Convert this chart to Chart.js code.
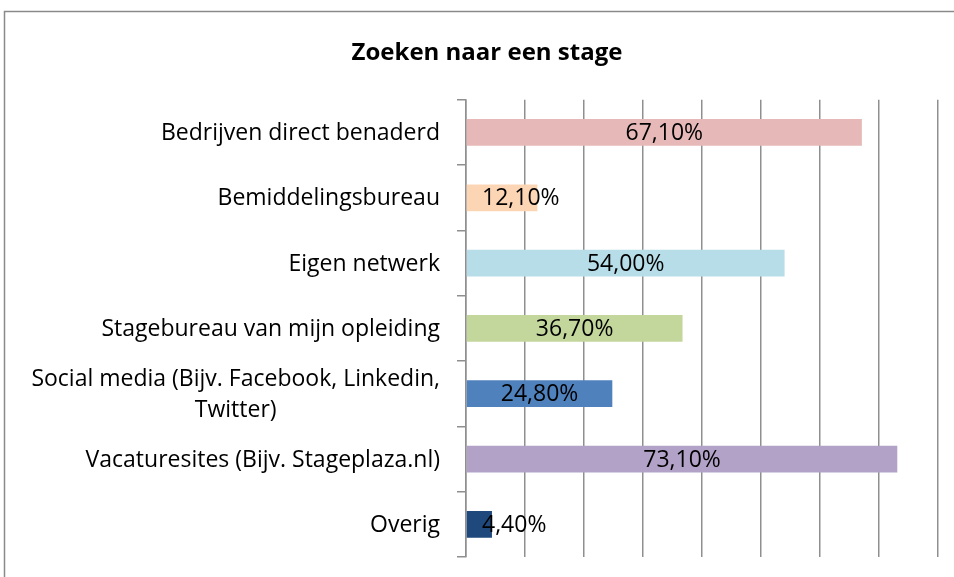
<!DOCTYPE html>
<html>
<head>
<meta charset="utf-8">
<script src="https://cdn.jsdelivr.net/npm/chart.js@4.4.1/dist/chart.umd.min.js"></script>
<style>
  html, body { margin: 0; padding: 0; background: #fff; }
  #wrap { width: 954px; height: 577px; }
</style>
</head>
<body>
<div id="wrap"><canvas id="chart"></canvas></div>
<script>
const categories = [
  "Bedrijven direct benaderd",
  "Bemiddelingsbureau",
  "Eigen netwerk",
  "Stagebureau van mijn opleiding",
  ["Social media (Bijv. Facebook, Linkedin,", "Twitter)"],
  "Vacaturesites (Bijv. Stageplaza.nl)",
  "Overig",
];
const values = [67.1, 12.1, 54.0, 36.7, 24.8, 73.1, 4.4];
const barColors = ["#E6B9B8", "#FCD5B5", "#B7DEE8", "#C3D69B", "#4F81BD", "#B2A2C7", "#1F497D"];
const xTicks = { min: 0, max: 80, step: 10 };

const FONT = "'Open Sans', sans-serif";
const gridColor = "#8f8f8f";

// outer frame of the chart, runs off the picture on the right and bottom
const framePlugin = {
  id: "frame",
  beforeDraw(chart) {
    const ctx = chart.ctx;
    ctx.save();
    ctx.strokeStyle = "#8a8a8a";
    ctx.lineWidth = 1.5;
    ctx.strokeRect(4.5, 11.5, 1200, 800);
    ctx.restore();
  },
};

// category labels: right edge fixed, lines centred within the block
const catLabelPlugin = {
  id: "catLabels",
  afterDraw(chart) {
    const ctx = chart.ctx;
    const y = chart.scales.y;
    const right = 440;
    const lineH = 31;
    ctx.save();
    ctx.font = "23px " + FONT;
    ctx.fillStyle = "#000";
    ctx.textBaseline = "middle";
    categories.forEach((cat, i) => {
      const lines = Array.isArray(cat) ? cat : [cat];
      const w = Math.max(...lines.map((l) => ctx.measureText(l).width));
      const cy = y.getPixelForValue(i);
      ctx.textAlign = "center";
      lines.forEach((l, j) => {
        const ly = cy + (j - (lines.length - 1) / 2) * lineH;
        ctx.fillText(l, right - w / 2, ly + 1);
      });
    });
    ctx.restore();
  },
};

// value labels centred on the bar, pushed right when the bar is too short
const valueLabelPlugin = {
  id: "valueLabels",
  afterDatasetsDraw(chart) {
    const ctx = chart.ctx;
    const meta = chart.getDatasetMeta(0);
    const x0 = chart.scales.x.getPixelForValue(0);
    ctx.save();
    ctx.font = "23px " + FONT;
    ctx.fillStyle = "#000";
    ctx.textAlign = "center";
    ctx.textBaseline = "middle";
    meta.data.forEach((bar, i) => {
      const txt = values[i].toFixed(2).replace(".", ",") + "%";
      const w = ctx.measureText(txt).width;
      const cx = Math.max((bar.base + bar.x) / 2, x0 + 16 + w / 2);
      ctx.fillText(txt, cx, bar.y + 1);
    });
    ctx.restore();
  },
};

new Chart(document.getElementById("chart"), {
  type: "bar",
  data: {
    labels: categories,
    datasets: [
      {
        data: values,
        backgroundColor: barColors,
        borderWidth: 0,
        categoryPercentage: 0.41,
        barPercentage: 1,
      },
    ],
  },
  options: {
    indexAxis: "y",
    responsive: true,
    maintainAspectRatio: false,
    animation: false,
    layout: { padding: { top: 12, right: 16, bottom: 20, left: 36 } },
    plugins: {
      legend: { display: false },
      tooltip: { enabled: false },
      title: {
        display: true,
        text: "Zoeken naar een stage",
        color: "#000",
        font: { family: FONT, size: 24, weight: "bold", lineHeight: 1.2 },
        padding: { top: 27, bottom: 32 },
      },
    },
    scales: {
      x: {
        min: xTicks.min,
        max: xTicks.max,
        ticks: { display: false, stepSize: xTicks.step },
        grid: { color: gridColor, lineWidth: 1.5, drawTicks: false },
        border: { display: false },
      },
      y: {
        ticks: { display: false },
        grid: {
          drawOnChartArea: false,
          drawTicks: true,
          tickLength: 9,
          color: gridColor,
          lineWidth: 1.5,
          offset: true,
        },
        border: { display: true, color: gridColor, width: 1.5 },
        afterFit(scale) {
          scale.width = 430;
        },
      },
    },
  },
  plugins: [framePlugin, catLabelPlugin, valueLabelPlugin],
});
</script>
</body>
</html>
